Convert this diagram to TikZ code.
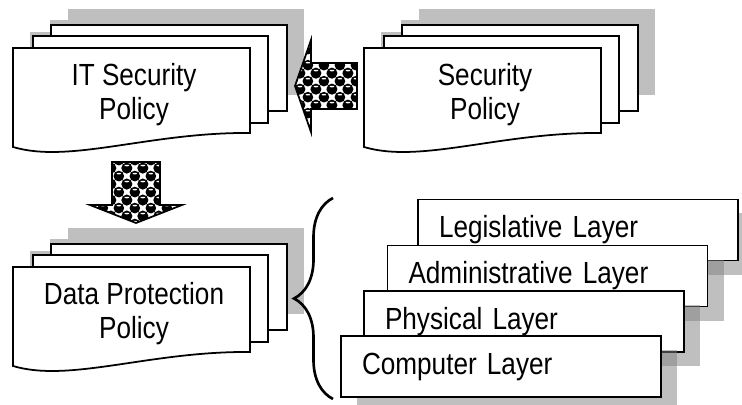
\documentclass[tikz,border=0pt]{standalone}
\usepackage{fontspec}
\setmainfont{Liberation Sans}
\newfontfamily\boxfont[FakeStretch=0.855]{Liberation Sans}
\usetikzlibrary{decorations.pathreplacing,shadows,patterns}

% ball fill of the block arrows
\pgfdeclarepatterninherentlycolored{spheres}{\pgfpointorigin}{\pgfqpoint{9pt}{9pt}}{\pgfqpoint{9pt}{9pt}}{
	\pgfsetfillcolor{white}
	\pgfpathrectangle{\pgfpointorigin}{\pgfqpoint{9pt}{9pt}}
	\pgfusepath{fill}
	\pgfsetfillcolor{black}
	\pgfpathcircle{\pgfqpoint{4.5pt}{4.5pt}}{3.05pt}
	\pgfpathcircle{\pgfqpoint{0pt}{0pt}}{3.05pt}
	\pgfpathcircle{\pgfqpoint{9pt}{0pt}}{3.05pt}
	\pgfpathcircle{\pgfqpoint{0pt}{9pt}}{3.05pt}
	\pgfpathcircle{\pgfqpoint{9pt}{9pt}}{3.05pt}
	\pgfusepath{fill}
	\pgfsetfillcolor{white}
	\pgfpathellipse{\pgfqpoint{4.5pt}{5.9pt}}{\pgfqpoint{1.3pt}{0pt}}{\pgfqpoint{0pt}{0.45pt}}
	\pgfpathellipse{\pgfqpoint{0pt}{1.4pt}}{\pgfqpoint{1.3pt}{0pt}}{\pgfqpoint{0pt}{0.45pt}}
	\pgfpathellipse{\pgfqpoint{9pt}{1.4pt}}{\pgfqpoint{1.3pt}{0pt}}{\pgfqpoint{0pt}{0.45pt}}
	\pgfusepath{fill}
}

% stack of three sheets, front sheet with wavy bottom
\def\docstack(#1,#2)#3#4{%
	\begin{scope}[shift={(#1,#2)}]
		\fill[sheetshade] (55,-39) rectangle (291,47);
		\fill[sheetshade] (37,-28) rectangle (272,59);
		\fill[sheetshade] (17,-16) rectangle (254,70);
		\filldraw[sheet] (38,-23) rectangle (274,63);
		\filldraw[sheet] (20,-12) rectangle (255,75);
		\filldraw[sheet] (0,0) -- (237,0) -- (237,85) .. controls (137,84) and (57,116) .. (0,99) -- cycle;
		\node[doctext] (#3) at (121,46.5) {#4};
	\end{scope}}

\begin{document}
\begin{tikzpicture}[x=0.2mm, y=-0.2mm,
		sheet/.style={fill=white, draw=black, line width=1pt},
		sheetshade/.style={fill=black!25},
		doctext/.style={font=\boxfont\fontsize{17.4}{19.8}\selectfont, align=center},
		layerbox/.style={draw, fill=white, line width=1pt, font=\boxfont\fontsize{17.4}{19.8}\selectfont,
			text width=5.56cm, align=left, inner xsep=4.2mm, minimum height=1.22cm,
			drop shadow={shadow xshift=3.2mm, shadow yshift=-2.8mm}},
		blockarrow/.style={draw, line width=1pt, pattern=spheres},
		bracestyle/.style={decorate, decoration={brace, amplitude=7.8mm}, line width=1.5pt}]
	%%%%% START %%%%%
	
	\useasboundingbox (0,0) rectangle (742,405);
	\clip (0,0) rectangle (742,405);
	
	\docstack(13,48){itpolicy}{IT Security\\Policy}
	\docstack(364,48){secpolicy}{Security\\Policy}
	\docstack(13,267){dppolicy}{Data Protection\\Policy}
	
	% block arrows
	\draw[blockarrow] (295,86) -- (311,40) -- (311,63) -- (357,63) -- (357,109) -- (311,109) -- (311,132) -- cycle;
	\draw[blockarrow] (112,162) -- (160,162) -- (160,205) -- (182,205) -- (136,223) -- (90,205) -- (112,205) -- cycle;
	
	% brace
	\coordinate (bracetop) at (333,198);
	\coordinate (bracebot) at (333,399);
	\draw[bracestyle] (bracebot) -- (bracetop);
	
	% layers, back to front
	\node[layerbox] (legislative) at (578,230) {Legislative Layer};
	\node[layerbox] (administrative) at (547.5,276) {Administrative Layer};
	\node[layerbox] (physical) at (524,321.5) {Physical Layer};
	\node[layerbox] (computer) at (501,366.5) {Computer Layer};
	
	%%%%% END %%%%%
\end{tikzpicture}
\end{document}
